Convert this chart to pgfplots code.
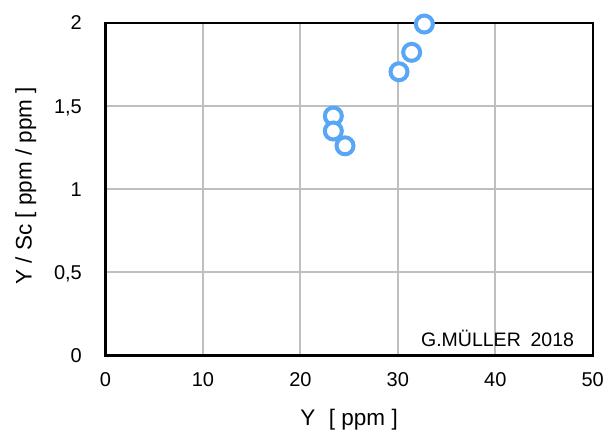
\documentclass[border=0pt]{standalone}
\usepackage{fontspec}
\setmainfont{Liberation Sans}
\usepackage{pgfplots}
\pgfplotsset{compat=1.18}
\definecolor{ptblue}{RGB}{88,166,245}
\definecolor{gridgray}{RGB}{191,191,191}
\begin{document}
\begin{tikzpicture}
\path[use as bounding box] (-105.5pt,-75.7pt) rectangle (501.3pt,355.3pt);
\begin{axis}[
    at={(0,0)}, anchor=south west,
    scale only axis,
    width=487pt, height=332.6pt,
    xmin=0, xmax=50, ymin=0, ymax=2,
    xtick={0,10,20,30,40,50},
    ytick={0,0.5,1,1.5,2},
    /pgf/number format/use comma,
    /pgf/number format/assume math mode=true,
    major tick length=0pt,
    grid=major,
    grid style={gridgray, line width=2pt},
    axis line style={black, line width=2.3pt},
    tick label style={font=\fontsize{20}{23}\selectfont, inner sep=0pt},
    xticklabel style={anchor=base, yshift=-31pt},
    yticklabel style={anchor=base east, xshift=-23.5pt, yshift=-7.2pt},
    xlabel={Y\hspace{0.6em}[ ppm ]},
    ylabel={Y / Sc [ ppm / ppm ]},
    label style={font=\fontsize{22.5}{26}\selectfont, inner sep=0pt},
    xlabel style={anchor=base, at={(axis description cs:0.5,-0.21)}},
    ylabel style={anchor=base, at={(axis description cs:-0.1515,0.51)}},
    clip=false,
]
\addplot[only marks, mark=*, mark size=8.5pt,
    mark options={draw=ptblue, fill=white, line width=4pt}]
    coordinates {
    (23.38,1.439)
    (23.38,1.349)
    (24.58,1.260)
    (30.12,1.705)
    (31.42,1.822)
    (32.72,1.992)
};
\node[anchor=base east, inner sep=0pt, font=\fontsize{19.5}{22}\selectfont]
    at (rel axis cs:0.962,0.026) {G.MÜLLER\hspace{0.5em}2018};
\end{axis}
\end{tikzpicture}
\end{document}
